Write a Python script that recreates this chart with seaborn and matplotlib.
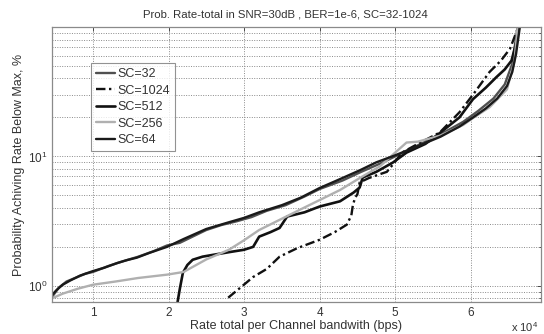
import numpy as np
import pandas as pd
import matplotlib
matplotlib.use("Agg")
import matplotlib.pyplot as plt
import seaborn as sns
from matplotlib.ticker import LogLocator, FixedLocator, NullFormatter, FuncFormatter

# Rate (x 1e4 bps) and probability (%) for each subcarrier count
sc32_x = [0.458, 0.55, 0.65, 0.78, 0.9, 1.0, 1.2, 1.4, 1.6, 1.8, 1.98, 2.15, 2.35, 2.5, 2.7, 2.9,
          3.1, 3.3, 3.55, 3.8, 4.0, 4.3, 4.55, 4.8, 5.0, 5.25, 5.6, 5.9, 6.1, 6.3, 6.45, 6.55, 6.62]
sc32_y = [0.82, 0.97, 1.08, 1.16, 1.24, 1.28, 1.42, 1.55, 1.68, 1.85, 2.05, 2.15, 2.45, 2.7, 2.95, 3.15,
          3.4, 3.8, 4.2, 4.9, 5.6, 6.5, 7.6, 8.8, 10.0, 11.8, 14.8, 18.5, 22.5, 28.0, 36.0, 52.0, 100]

sc1024_x = [2.79, 2.98, 3.12, 3.3, 3.47, 3.7, 4.0, 4.2, 4.36, 4.42, 4.44, 4.47, 4.5, 4.53, 4.65, 4.8,
            4.89, 4.97, 5.09, 5.3, 5.59, 5.85, 6.03, 6.25, 6.4, 6.52, 6.6, 6.63]
sc1024_y = [0.81, 1.0, 1.17, 1.35, 1.68, 1.95, 2.27, 2.6, 2.97, 3.5, 4.2, 4.8, 5.1, 6.3, 6.8, 7.3,
            7.6, 8.66, 10.7, 12.5, 15.3, 21.9, 30.0, 45.0, 55.0, 68.0, 90.0, 100]

sc512_x = [2.12, 2.15, 2.19, 2.25, 2.32, 2.45, 2.55, 2.8, 3.0, 3.12, 3.2, 3.35, 3.47, 3.57, 3.8, 4.0,
           4.27, 4.45, 4.53, 4.57, 4.75, 4.97, 5.15, 5.4, 5.6, 5.85, 6.03, 6.2, 6.34, 6.45, 6.54, 6.6, 6.63]
sc512_y = [0.75, 0.95, 1.26, 1.45, 1.59, 1.68, 1.72, 1.82, 1.9, 2.0, 2.4, 2.6, 2.8, 3.43, 3.7, 4.1,
           4.5, 5.26, 5.75, 6.87, 7.6, 8.97, 10.7, 12.5, 15.3, 20.0, 27.7, 34.0, 41.0, 47.0, 55.0, 75.0, 100]

sc256_x = [0.458, 0.6, 0.8, 1.0, 1.3, 1.6, 1.98, 2.2, 2.5, 2.8, 3.0, 3.2, 3.5, 3.75, 4.0, 4.27,
           4.53, 4.8, 5.0, 5.15, 5.3, 5.6, 5.9, 6.03, 6.25, 6.48, 6.58, 6.62]
sc256_y = [0.80, 0.87, 0.95, 1.02, 1.08, 1.15, 1.22, 1.28, 1.6, 1.9, 2.25, 2.7, 3.3, 3.9, 4.6, 5.5,
           6.8, 8.4, 10.7, 12.8, 13.0, 14.5, 17.5, 19.8, 24.0, 33.0, 55.0, 100]

sc64_x = [0.458, 0.52, 0.60, 0.70, 0.83, 1.0, 1.15, 1.32, 1.45, 1.58, 1.75, 1.98, 2.2, 2.5, 2.8, 3.0,
          3.2, 3.5, 3.75, 4.0, 4.25, 4.53, 4.75, 5.0, 5.3, 5.6, 5.85, 6.03, 6.2, 6.35, 6.48, 6.55, 6.6, 6.65]
sc64_y = [0.85, 0.93, 1.02, 1.10, 1.2, 1.3, 1.38, 1.5, 1.58, 1.65, 1.8, 2.0, 2.3, 2.75, 3.1, 3.35,
          3.7, 4.2, 4.8, 5.7, 6.6, 7.8, 9.0, 10.2, 12.0, 14.2, 17.0, 20.0, 23.5, 28.0, 35.0, 45.0, 62.0, 100]

labels = ["SC=32", "SC=1024", "SC=512", "SC=256", "SC=64"]
xs = [sc32_x, sc1024_x, sc512_x, sc256_x, sc64_x]
ys = [sc32_y, sc1024_y, sc512_y, sc256_y, sc64_y]

x_ticks = [1, 2, 3, 4, 5, 6]

sns.set_style("white")
plt.rcParams["font.family"] = ["Liberation Sans", "DejaVu Sans"]
plt.rcParams["mathtext.fontset"] = "custom"
plt.rcParams["mathtext.rm"] = "Liberation Sans"

styles = {
    "SC=32": dict(color="#505050", linestyle="-", lw=1.7),
    "SC=1024": dict(color="#111111", linestyle=(0, (4, 1.5, 1, 1.5)), lw=1.7),
    "SC=512": dict(color="#111111", linestyle="-", lw=1.9),
    "SC=256": dict(color="#b0b0b0", linestyle="-", lw=1.7),
    "SC=64": dict(color="#1a1a1a", linestyle="-", lw=1.7),
}

fig = plt.figure(figsize=(5.44, 3.34), dpi=100)
ax = fig.add_axes([52 / 544, 32 / 334, 489 / 544, 275 / 334])

for lab, x, y in zip(labels, xs, ys):
    df = pd.DataFrame({"rate": np.array(x) * 1e4, "prob": y})
    st = styles[lab]
    sns.lineplot(data=df, x="rate", y="prob", ax=ax, sort=False, estimator=None,
                 color=st["color"], linestyle=st["linestyle"], linewidth=st["lw"], label=lab)

ax.set_yscale("log")
ax.set_xlim(0.458e4, 6.93e4)
ax.set_ylim(0.75, 100)

ax.xaxis.set_major_locator(FixedLocator([t * 1e4 for t in x_ticks]))
ax.xaxis.set_major_formatter(FuncFormatter(lambda v, p: f"{v / 1e4:g}"))
ax.yaxis.set_major_locator(FixedLocator([1, 10]))
ax.yaxis.set_major_formatter(FuncFormatter(lambda v, p: r"$10^{%d}$" % int(round(np.log10(v)))))
ax.yaxis.set_minor_locator(LogLocator(base=10, subs=np.arange(2, 10)))
ax.yaxis.set_minor_formatter(NullFormatter())

ax.grid(which="major", axis="both", linestyle=(0, (1, 1.5)), color="#8a8a8a", linewidth=0.7)
ax.grid(which="minor", axis="y", linestyle=(0, (1, 1.5)), color="#8a8a8a", linewidth=0.7)

ax.tick_params(axis="both", which="both", direction="in", labelsize=8.5, colors="#333333",
               length=3, width=0.6, top=True, right=True)
ax.tick_params(axis="y", which="minor", length=1.8)
for sp in ax.spines.values():
    sp.set_color("#8a8a8a")
    sp.set_linewidth(0.9)

ax.set_title("Prob. Rate-total in SNR=30dB , BER=1e-6, SC=32-1024", fontsize=8.2, color="#333333",
             pad=7, x=0.477)
ax.set_xlabel("Rate total per Channel bandwith (bps)", fontsize=9, color="#333333", labelpad=1)
ax.set_ylabel("Probability Achiving Rate Below Max, %", fontsize=9, color="#333333", labelpad=2)
fig.text(525 / 544, 1 - 327 / 334, r"x 10$^4$", fontsize=8, color="#333333", ha="center", va="center")

leg = ax.legend(loc="upper left", bbox_to_anchor=(0.08, 0.868), fontsize=9, frameon=True,
                fancybox=False, handlelength=1.5, handletextpad=0.2, borderpad=0.4,
                labelspacing=0.36, borderaxespad=0)
leg.get_frame().set_edgecolor("#777777")
leg.get_frame().set_linewidth(0.8)
for t in leg.get_texts():
    t.set_color("#333333")

fig.savefig("out.png", dpi=100, facecolor="white")
